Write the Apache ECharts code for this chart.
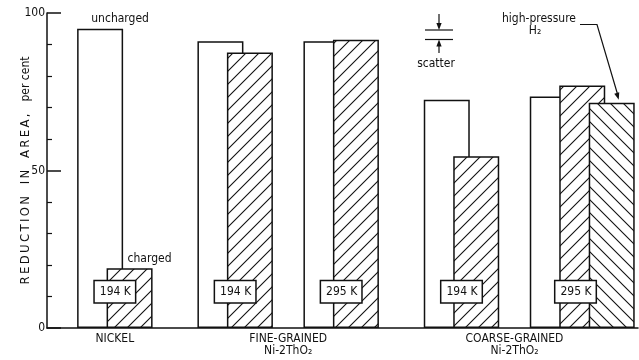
<!DOCTYPE html>
<html><head><meta charset="utf-8">
<script src="https://cdn.jsdelivr.net/npm/echarts@6/dist/echarts.min.js"></script>
<style>html,body{margin:0;background:#fff}#c{width:639px;height:360px}</style>
</head><body><div id="c"></div>
<script>
// Reduction in area of nickel and Ni-2ThO2, uncharged vs hydrogen-charged
const materials = ['NICKEL', 'FINE-GRAINED\nNi-2ThO₂', 'COARSE-GRAINED\nNi-2ThO₂'];
const pairMaterial = [0, 1, 1, 2, 2];
const pairTemps = ['194 K', '194 K', '295 K', '194 K', '295 K'];
const uncharged = [95, 91, 91, 72.5, 73.5];
const charged = [19, 87.5, 91.5, 54.5, 77];
const highPressureH2 = [null, null, null, null, 71.5];
const yTicks = [0, 50, 100];

// x layout: one unit = spacing between neighbouring test pairs
const GROUP_GAP = 0.135, BAR_STEP = 0.278, LABEL_LEVEL = 11.5;
const pairPos = pairMaterial.map((g, i) => i + g * GROUP_GAP);
const materialPos = materials.map((_, g) => {
  const p = pairPos.filter((_, i) => pairMaterial[i] === g);
  return (p[0] + p[p.length - 1]) / 2;
});

const FONT = "'Liberation Sans Narrow', 'DejaVu Sans Condensed', sans-serif";
const INK = '#111';

function hatch(dir) {
  const s = 13, c = document.createElement('canvas');
  c.width = c.height = s;
  const g = c.getContext('2d');
  g.fillStyle = '#fff'; g.fillRect(0, 0, s, s);
  g.strokeStyle = INK; g.lineWidth = 1.1;
  g.beginPath();
  if (dir > 0) {
    g.moveTo(-1, s + 1); g.lineTo(s + 1, -1);
    g.moveTo(-1, 1); g.lineTo(1, -1);
    g.moveTo(s - 1, s + 1); g.lineTo(s + 1, s - 1);
  } else {
    g.moveTo(-1, -1); g.lineTo(s + 1, s + 1);
    g.moveTo(s - 1, -1); g.lineTo(s + 1, 1);
    g.moveTo(-1, s - 1); g.lineTo(1, s + 1);
  }
  g.stroke();
  return { image: c, repeat: 'repeat' };
}

const spaced = s => s.split(' ').map(w => w.split('').join('\u2009')).join('\u2003');

const barBase = {
  type: 'bar', barWidth: 46, barGap: '-100%',
  itemStyle: { borderColor: INK, borderWidth: 1.5 },
  emphasis: { disabled: true }, animation: false
};

const chart = echarts.init(document.getElementById('c'));
chart.setOption({
  backgroundColor: '#fff',
  animation: false,
  grid: { left: 47, right: 1, top: 13, bottom: 32, containLabel: false, outerBoundsMode: 'none' },
  xAxis: {
    type: 'value', min: -0.64, max: 4.935,
    splitLine: { show: false },
    axisLine: { show: true, onZero: false, lineStyle: { color: INK, width: 1.5 } },
    axisTick: { show: false },
    axisLabel: {
      customValues: materialPos,
      formatter: v => {
        let k = 0;
        materialPos.forEach((p, i) => { if (Math.abs(p - v) < Math.abs(materialPos[k] - v)) k = i; });
        return materials[k];
      },
      color: INK, fontFamily: FONT, fontSize: 12, lineHeight: 12, margin: 5
    }
  },
  yAxis: {
    type: 'value', min: 0, max: 100, interval: 50,
    name: '{a|' + spaced('REDUCTION IN AREA,') + '}\u2003{b|per cent}',
    nameLocation: 'middle', nameRotate: 90, nameGap: 15, nameMoveOverlap: false,
    nameTextStyle: {
      rich: {
        a: { fontFamily: FONT, fontSize: 13, color: INK },
        b: { fontFamily: FONT, fontSize: 12, color: INK }
      }
    },
    splitLine: { show: false },
    axisLine: { show: true, onZero: false, lineStyle: { color: INK, width: 1.5 } },
    axisTick: { show: true, inside: true, length: 14, lineStyle: { color: INK, width: 1.5 } },
    minorTick: { show: true, splitNumber: 5, length: 5, lineStyle: { color: INK, width: 1.2 } },
    axisLabel: {
      customValues: yTicks,
      color: INK, fontFamily: FONT, fontSize: 12, margin: 2
    }
  },
  series: [
    Object.assign({}, barBase, {
      name: 'uncharged',
      data: uncharged.map((v, i) => {
        const d = { value: [pairPos[i] - BAR_STEP / 2, v] };
        if (i === 0) d.label = { show: true, position: 'top', distance: 4, offset: [20, 0], formatter: 'uncharged', color: INK, fontFamily: FONT, fontSize: 12 };
        return d;
      }),
      itemStyle: { color: '#fff', borderColor: INK, borderWidth: 1.5 }
    }),
    Object.assign({}, barBase, {
      name: 'charged',
      data: charged.map((v, i) => {
        const d = { value: [pairPos[i] + BAR_STEP / 2, v] };
        if (i === 0) d.label = { show: true, position: 'top', distance: 3, offset: [20, 0], formatter: 'charged', color: INK, fontFamily: FONT, fontSize: 12 };
        return d;
      }),
      itemStyle: { color: hatch(1), borderColor: INK, borderWidth: 1.5 }
    }),
    Object.assign({}, barBase, {
      name: 'high-pressure H2',
      data: highPressureH2.map((v, i) => [pairPos[i] + 1.5 * BAR_STEP, v]),
      itemStyle: { color: hatch(-1), borderColor: INK, borderWidth: 1.5 }
    }),
    {
      type: 'scatter', name: 'test temperature', symbolSize: 0, z: 5, silent: true,
      itemStyle: { opacity: 1, color: INK },
      data: pairPos.map((x, i) => {
        const d = { value: [x, LABEL_LEVEL], name: pairTemps[i] };
        if (highPressureH2[i] != null) d.label = { offset: [8, 0] };
        return d;
      }),
      label: {
        show: true, position: 'inside', formatter: '{b}',
        color: INK, fontFamily: FONT, fontSize: 12,
        textBorderWidth: 0, textShadowBlur: 0, opacity: 1,
        backgroundColor: '#fff', borderColor: INK, borderWidth: 1.5,
        padding: [5, 4, 4, 5]
      }
    }
  ]
});

// annotations: scatter-band marker and the high-pressure H2 pointer
function arrowHead(x, y, fx, fy) {
  const a = Math.atan2(y - fy, x - fx), L = 7, W = 2.6;
  const bx = x - L * Math.cos(a), by = y - L * Math.sin(a);
  return { type: 'polygon', shape: { points: [[x, y], [bx + W * Math.sin(a), by - W * Math.cos(a)], [bx - W * Math.sin(a), by + W * Math.cos(a)]] }, style: { fill: INK } };
}
const h2Top = chart.convertToPixel({ xAxisIndex: 0, yAxisIndex: 0 }, [pairPos[4] + 1.5 * BAR_STEP, highPressureH2[4]]);
const tip = [h2Top[0] + 7, h2Top[1] - 3];
const lineStyle = { stroke: INK, lineWidth: 1.2, fill: null };
chart.setOption({
  graphic: [
    { type: 'line', shape: { x1: 425, y1: 30, x2: 453, y2: 30 }, style: lineStyle },
    { type: 'line', shape: { x1: 425, y1: 39.5, x2: 453, y2: 39.5 }, style: lineStyle },
    { type: 'line', shape: { x1: 439, y1: 14, x2: 439, y2: 26 }, style: lineStyle },
    arrowHead(439, 30, 439, 14),
    { type: 'line', shape: { x1: 439, y1: 53, x2: 439, y2: 43 }, style: lineStyle },
    arrowHead(439, 39.5, 439, 53),
    { type: 'text', x: 436, y: 64, style: { text: 'scatter', fontFamily: FONT, fontSize: 12, fill: INK, align: 'center', verticalAlign: 'middle' } },
    { type: 'text', x: 539, y: 19, style: { text: 'high-pressure', fontFamily: FONT, fontSize: 12, fill: INK, align: 'center', verticalAlign: 'middle' } },
    { type: 'text', x: 535, y: 31, style: { text: 'H₂', fontFamily: FONT, fontSize: 12, fill: INK, align: 'center', verticalAlign: 'middle' } },
    { type: 'polyline', shape: { points: [[580, 24.5], [597, 24.5], [tip[0] - 1.3, tip[1] - 6]] }, style: lineStyle },
    arrowHead(tip[0], tip[1], 597, 24.5)
  ]
});
</script></body></html>
